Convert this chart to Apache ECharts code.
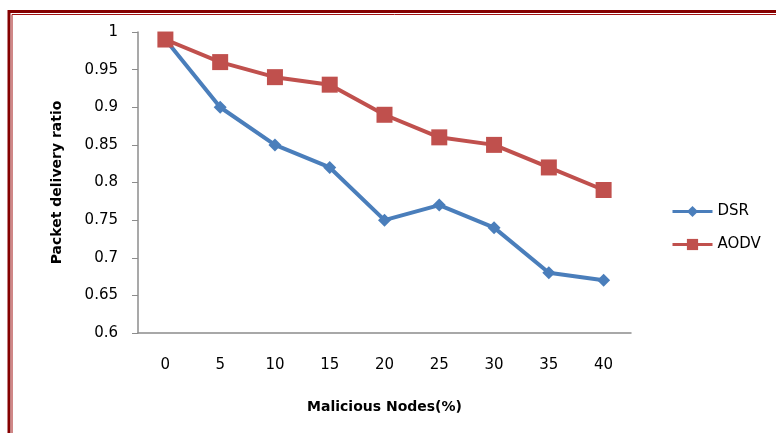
<!DOCTYPE html>
<html><head><meta charset="utf-8">
<script src="https://cdn.jsdelivr.net/npm/echarts@6/dist/echarts.min.js"></script>
<style>html,body{margin:0;padding:0;background:#fff}#c{width:776px;height:433px}</style>
</head><body><div id="c"></div>
<script>
const categories = ['0','5','10','15','20','25','30','35','40'];
const dsr = [0.99, 0.90, 0.85, 0.82, 0.75, 0.77, 0.74, 0.68, 0.67];
const aodv = [0.99, 0.96, 0.94, 0.93, 0.89, 0.86, 0.85, 0.82, 0.79];
const yTicks = ['0.6','0.65','0.7','0.75','0.8','0.85','0.9','0.95','1'];

const chart = echarts.init(document.getElementById('c'), null, {renderer:'canvas'});
const font = 'DejaVu Sans';
chart.setOption({
  animation:false,
  backgroundColor:'#fff',
  graphic:[
    {type:'rect', shape:{x:9, y:11.5, width:800, height:460}, style:{fill:'none', stroke:'#850000', lineWidth:3}},
    {type:'rect', shape:{x:12, y:14.5, width:800, height:460}, style:{fill:'none', stroke:'#a01010', lineWidth:1}}
  ],
  grid:{left:138, top:32, width:493, height:301, containLabel:false},
  legend:{
    orient:'vertical', left:666, top:199, itemGap:18, itemWidth:40, itemHeight:14,
    textStyle:{fontFamily:font, fontSize:15, color:'#000'},
    lineStyle:{width:3},
    data:['DSR','AODV']
  },
  xAxis:{
    type:'category', data:categories, boundaryGap:true,
    name:'Malicious Nodes(%)', nameLocation:'middle', nameGap:67,
    nameTextStyle:{fontFamily:font, fontSize:14, fontWeight:'bold', color:'#000'},
    axisLine:{lineStyle:{color:'#8c8c8c', width:1.5}},
    axisTick:{show:false},
    axisLabel:{fontFamily:font, fontSize:15, color:'#000', margin:25}
  },
  yAxis:{
    type:'value', min:0.6, max:1, interval:0.05,
    name:'Packet delivery ratio', nameLocation:'middle', nameGap:74, nameRotate:90,
    nameTextStyle:{fontFamily:font, fontSize:14, fontWeight:'bold', color:'#000'},
    axisLine:{show:true, lineStyle:{color:'#8c8c8c', width:1.5}},
    axisTick:{show:true, inside:false, length:6, lineStyle:{color:'#8c8c8c'}},
    splitLine:{show:false},
    axisLabel:{fontFamily:font, fontSize:15, color:'#000', margin:20,
      formatter:function(v){ const i=Math.round((v-0.6)/0.05); return yTicks[i]; }}
  },
  series:[
    {name:'DSR', type:'line', data:dsr, symbol:'diamond', symbolSize:13,
     lineStyle:{color:'#4a7ebb', width:4}, itemStyle:{color:'#4a7ebb'}},
    {name:'AODV', type:'line', data:aodv, symbol:'rect', symbolSize:16,
     lineStyle:{color:'#c0504d', width:4}, itemStyle:{color:'#c0504d'}}
  ]
});
</script></body></html>
